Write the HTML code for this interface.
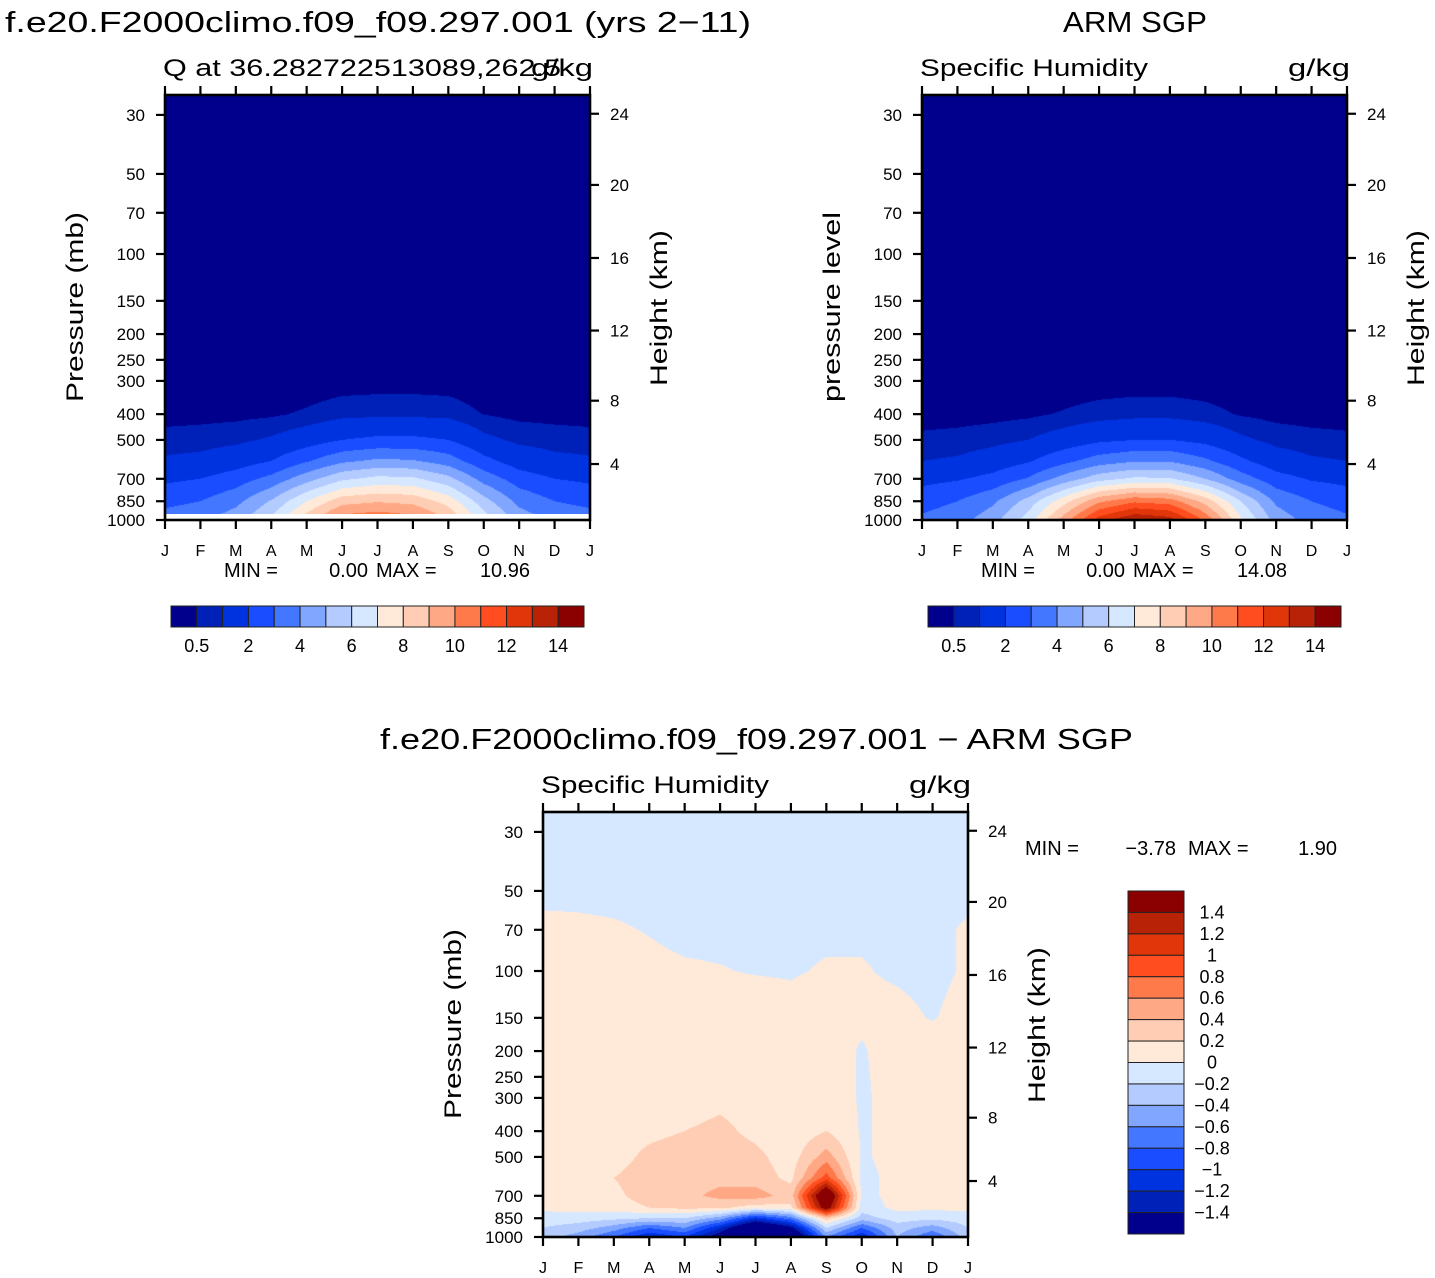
<!DOCTYPE html>
<html><head><meta charset="utf-8">
<style>
html,body{margin:0;padding:0;background:#fff;}
#wrap{position:relative;width:1435px;height:1278px;overflow:hidden;}
canvas{position:absolute;}
svg{position:absolute;left:0;top:0;}
text{font-family:"Liberation Sans",sans-serif;fill:#000;}
</style></head>
<body>
<div id="wrap">
<canvas id="c1" width="425" height="425" style="left:165px;top:95px"></canvas>
<canvas id="c2" width="425" height="425" style="left:922px;top:95px"></canvas>
<canvas id="c3" width="425" height="425" style="left:543px;top:812px"></canvas>
<svg id="s" width="1435" height="1278"></svg>
</div>
<script>
const months = ["J","F","M","A","M","J","J","A","S","O","N","D","J"];
const pTicks = [30,50,70,100,150,200,250,300,400,500,700,850,1000];
const hTickLabels = [24,20,16,12,8,4];
const hTickPressures = [29.7,55,103.5,194,356,616];
const topLevelsP = [1000,850,700,600,500,400,300,200,100,25];
const modelQ = [
 [3.5,3.8,4.6,6.2,8.6,10.6,10.9,10.5,9.0,6.6,4.6,3.8,3.5],
 [2.7,3.0,3.7,5.1,7.0,8.6,8.9,8.7,7.6,5.4,3.7,3.0,2.7],
 [1.8,2.0,2.5,3.3,4.6,5.8,6.3,6.2,5.3,3.6,2.5,2.0,1.8],
 [1.1,1.2,1.5,2.0,2.9,3.8,4.2,4.1,3.5,2.3,1.5,1.2,1.1],
 [0.7,0.75,0.85,1.1,1.5,2.0,2.2,2.2,2.0,1.2,0.85,0.75,0.7],
 [0.3,0.33,0.36,0.42,0.58,0.8,0.85,0.85,0.8,0.48,0.36,0.33,0.3],
 [0.1,0.11,0.12,0.14,0.18,0.25,0.27,0.27,0.25,0.16,0.12,0.11,0.1],
 [0.02,0.02,0.02,0.03,0.04,0.05,0.06,0.06,0.05,0.03,0.02,0.02,0.02],
 [0.005,0.005,0.005,0.005,0.005,0.005,0.005,0.005,0.005,0.005,0.005,0.005,0.005],
 [0,0,0,0,0,0,0,0,0,0,0,0,0]];
const obsQ = [
 [3.2,3.6,4.6,6.5,9.5,12.5,14.0,13.5,10.8,7.2,4.6,3.6,3.2],
 [2.6,3.0,3.8,5.4,7.6,9.8,10.8,10.5,8.6,6.0,3.8,3.0,2.6],
 [1.7,1.9,2.3,3.1,4.4,5.6,6.2,6.1,5.0,3.5,2.4,1.9,1.7],
 [1.0,1.1,1.4,1.9,2.7,3.5,3.9,3.9,3.2,2.2,1.4,1.1,1.0],
 [0.62,0.68,0.8,1.0,1.4,1.8,2.0,2.0,1.7,1.15,0.8,0.68,0.62],
 [0.28,0.3,0.34,0.4,0.55,0.72,0.8,0.8,0.68,0.45,0.34,0.3,0.28],
 [0.1,0.1,0.11,0.13,0.17,0.21,0.23,0.23,0.2,0.15,0.11,0.1,0.1],
 [0.02,0.02,0.02,0.03,0.04,0.05,0.05,0.05,0.04,0.03,0.02,0.02,0.02],
 [0.005,0.005,0.005,0.005,0.005,0.005,0.005,0.005,0.005,0.005,0.005,0.005,0.005],
 [0,0,0,0,0,0,0,0,0,0,0,0,0]];
const diffLevelsP = [1000,925,850,775,700,600,500,400,300,200,150,100,70,50,25];
const diffQ = [
 [-0.3,-0.5,-0.8,-1.2,-1.0,-1.6,-2.5,-2.0,-0.6,-1.2,-0.4,-0.8,-0.3],
 [-0.2,-0.3,-0.5,-0.8,-0.6,-1.2,-2.0,-1.5,-0.2,-0.8,-0.3,-0.5,-0.2],
 [-0.1,-0.1,-0.15,-0.2,-0.2,-0.5,-1.1,-0.7,0.3,-0.3,-0.1,-0.15,-0.1],
 [0.05,0.08,0.1,0.2,0.25,0.25,0.1,0.15,1.6,-0.1,0.05,0.05,0.05],
 [0.1,0.05,0.15,0.3,0.35,0.45,0.5,0.3,1.9,-0.05,0.05,0.05,0.1],
 [0.2,0.1,0.2,0.3,0.32,0.35,0.3,0.15,0.9,-0.05,0.05,0.05,0.1],
 [0.1,0.05,0.12,0.25,0.3,0.3,0.25,0.1,0.5,-0.02,0.05,0.05,0.1],
 [0.05,0.05,0.1,0.15,0.2,0.25,0.15,0.05,0.2,-0.02,0.05,0.05,0.05],
 [0.05,0.05,0.05,0.1,0.1,0.15,0.1,0.05,0.1,-0.02,0.05,0.05,0.05],
 [0.05,0.05,0.05,0.05,0.05,0.05,0.05,0.05,0.05,-0.01,0.05,0.05,0.05],
 [0.03,0.03,0.03,0.03,0.03,0.03,0.03,0.02,0.03,0.02,0.02,-0.005,0.03],
 [0.02,0.02,0.02,0.01,0.005,0.002,-0.003,-0.005,0.005,0.005,-0.01,-0.02,0.01],
 [0.01,0.008,0.004,-0.002,-0.01,-0.01,-0.01,-0.01,-0.01,-0.01,-0.01,-0.01,0.005],
 [-0.01,-0.01,-0.01,-0.01,-0.01,-0.01,-0.01,-0.01,-0.01,-0.01,-0.01,-0.01,-0.01],
 [-0.01,-0.01,-0.01,-0.01,-0.01,-0.01,-0.01,-0.01,-0.01,-0.01,-0.01,-0.01,-0.01]];
const topBounds = [0.5,1,2,3,4,5,6,7,8,9,10,11,12,13,14];
const topBarLabels = ["0.5","2","4","6","8","10","12","14"];
const diffBounds = [-1.4,-1.2,-1,-0.8,-0.6,-0.4,-0.2,0,0.2,0.4,0.6,0.8,1,1.2,1.4];
const diffBarLabels = ["1.4","1.2","1","0.8","0.6","0.4","0.2","0","\u22120.2","\u22120.4","\u22120.6","\u22120.8","\u22121","\u22121.2","\u22121.4"];
const palette = ["#00008c","#0021b8","#0033e0","#1a4dff","#4477ff","#80a6ff","#b3cbff","#d6e8ff","#ffead9","#ffcdb3","#ffa885","#ff7a4a","#ff4d1f","#e0360a","#b82207","#8b0000"];

const PX_PER_DEC = 266, W = 425, H = 425;
function yOfP(p){ return H - PX_PER_DEC*(3 - Math.log10(p)); }
function xOfMonth(i){ return i*W/12; }
function hex(c){ return [parseInt(c.slice(1,3),16),parseInt(c.slice(3,5),16),parseInt(c.slice(5,7),16)]; }
const palRGB = palette.map(hex);
function binOf(v,b){ let k=0; while(k<b.length && v>=b[k]) k++; return k; }

function drawField(id, levels, grid, bounds){
  const cv=document.getElementById(id), ctx=cv.getContext('2d');
  const img=ctx.createImageData(W,H);
  const lp=levels.map(p=>Math.log10(p));
  for(let y=0;y<H;y++){
    const L = 3 - (H-(y+0.5))/PX_PER_DEC;
    let i=0; while(i<lp.length-2 && L<lp[i+1]) i++;
    let t=(lp[i]-L)/(lp[i]-lp[i+1]); t=Math.max(0,Math.min(1,t));
    for(let x=0;x<W;x++){
      const m=(x+0.5)/W*12; let j=Math.min(11,Math.floor(m)); const u=m-j;
      const a=grid[i][j]*(1-u)+grid[i][j+1]*u;
      const b=grid[i+1][j]*(1-u)+grid[i+1][j+1]*u;
      const v=a*(1-t)+b*t;
      const c=palRGB[binOf(v,bounds)];
      const o=(y*W+x)*4; img.data[o]=c[0];img.data[o+1]=c[1];img.data[o+2]=c[2];img.data[o+3]=255;
    }
  }
  ctx.putImageData(img,0,0);
}
drawField('c1',topLevelsP,modelQ,topBounds);
drawField('c2',topLevelsP,obsQ,topBounds);
drawField('c3',diffLevelsP,diffQ,diffBounds);

const NS="http://www.w3.org/2000/svg", svg=document.getElementById('s');
function el(tag,attrs,parent){ const e=document.createElementNS(NS,tag); for(const k in attrs) e.setAttribute(k,attrs[k]); (parent||svg).appendChild(e); return e; }
function txt(s,x,y,size,attrs){ const e=el('text',Object.assign({x:x,y:y,'font-size':size},attrs||{})); e.textContent=s; return e; }

function minmaxLabel(x0,y,minV,maxV,pos,name){
  const g=el('g',{});
  
  
  const parts=[['MIN =',pos[0],'start'],[minV,pos[1],'end'],['MAX =',pos[2],'start'],[maxV,pos[3],'end']];
  parts.forEach(p=>{ const t=txt(p[0],x0+p[1],y,20,{'text-anchor':p[2]}); g.appendChild(t); });
}

function axes(x0,y0,name,leftTitle,topLeft,topRight,whiteStrip){
  const g=el('g',{});
  
  
  if(whiteStrip){ const r=el('rect',{x:x0,y:y0+H-6,width:W,height:6,fill:'#fff'},g);
      }
  const f=el('rect',{x:x0,y:y0,width:W,height:H,fill:'none',stroke:'#000','stroke-width':2.6},g);
   
  months.forEach((m,i)=>{
    const x=x0+xOfMonth(i);
    el('line',{x1:x,x2:x,y1:y0,y2:y0-9,stroke:'#000','stroke-width':2.2},g);
    el('line',{x1:x,x2:x,y1:y0+H,y2:y0+H+9,stroke:'#000','stroke-width':2.2},g);
    const t=txt(m,x,y0+H+36,16,{'text-anchor':'middle'});
     
  });
  pTicks.forEach(p=>{
    const y=y0+yOfP(p);
    el('line',{x1:x0,x2:x0-9,y1:y,y2:y,stroke:'#000','stroke-width':2.2},g);
    const t=txt(String(p),x0-20,y+6,17,{'text-anchor':'end'});
     
  });
  hTickPressures.forEach((p,i)=>{
    const y=y0+yOfP(p);
    el('line',{x1:x0+W,x2:x0+W+9,y1:y,y2:y,stroke:'#000','stroke-width':2.2},g);
    const t=txt(String(hTickLabels[i]),x0+W+20,y+6,17,{});
     
  });
  const yl=txt(leftTitle,0,0,24,{'text-anchor':'middle',transform:`translate(${x0-82},${y0+212}) rotate(-90)`,textLength:190,lengthAdjust:'spacingAndGlyphs'});
   
  const yr=txt('Height (km)',0,0,24,{'text-anchor':'middle',transform:`translate(${x0+W+77},${y0+213}) rotate(-90)`,textLength:156,lengthAdjust:'spacingAndGlyphs'});
   
  const tl=txt(topLeft[0],x0-2,y0-19,24,{textLength:topLeft[1],lengthAdjust:'spacingAndGlyphs'});
   
  const tr=txt(topRight,x0+W+3,y0-19,24,{'text-anchor':'end',textLength:62,lengthAdjust:'spacingAndGlyphs'});
   
}
axes(165,95,'model-panel','Pressure (mb)',['Q at 36.282722513089,262.5',398],'g/kg',true);
axes(922,95,'obs-panel','pressure level',['Specific Humidity',228],'g/kg',false);
axes(543,812,'diff-panel','Pressure (mb)',['Specific Humidity',228],'g/kg',false);
minmaxLabel(165,577,'0.00','10.96',[59,203,211,365],'model-min-max-label');
minmaxLabel(922,577,'0.00','14.08',[59,203,211,365],'obs-min-max-label');
minmaxLabel(1025,855,'\u22123.78','1.90',[0,151,163,312],'diff-min-max-label');

let t;
t=txt('f.e20.F2000climo.f09_f09.297.001 (yrs 2\u221211)',5,32,29,{textLength:746,lengthAdjust:'spacingAndGlyphs'});
 
t=txt('ARM SGP',1063,32,29,{textLength:144,lengthAdjust:'spacingAndGlyphs'});
 
t=txt('f.e20.F2000climo.f09_f09.297.001 \u2212 ARM SGP',380,749,29,{textLength:753,lengthAdjust:'spacingAndGlyphs'});
 

function hbar(x0,name){
  const g=el('g',{});
  
  
  const bw=(584-171)/palette.length;
  palette.forEach((c,i)=>{
    const r=el('rect',{x:x0+i*bw,y:606,width:bw,height:21,fill:c,stroke:'#222','stroke-width':1},g);
     
  });
  topBarLabels.forEach((s,k)=>{
    const lb=txt(s,x0+(1+2*k)*bw,652,18,{'text-anchor':'middle'});
     
  });
}
hbar(171,'model-colorbar'); hbar(928,'obs-colorbar');

const vg=el('g',{});


const bh=(1234-891)/palette.length;
palette.slice().reverse().forEach((c,i)=>{
  const r=el('rect',{x:1128,y:891+i*bh,width:56,height:bh,fill:c,stroke:'#222','stroke-width':1},vg);
   
});
diffBarLabels.forEach((s,i)=>{
  const lb=txt(s,1212,891+(i+1)*bh+6,18,{'text-anchor':'middle'});
   
});
</script>
</body></html>
